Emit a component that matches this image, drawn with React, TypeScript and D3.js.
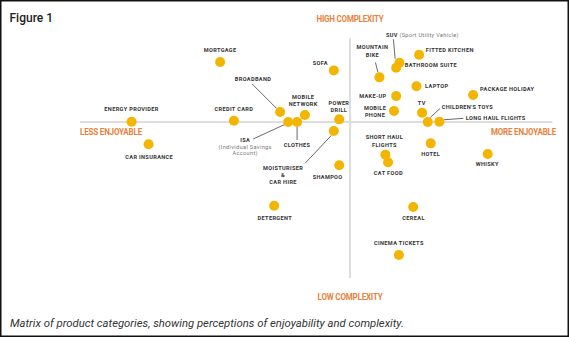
import React from "react";
import * as d3 from "d3";

// ---- data ----
const products = [
  "ENERGY PROVIDER", "CAR INSURANCE", "MORTGAGE", "CREDIT CARD", "BROADBAND",
  "ISA", "CLOTHES", "MOBILE NETWORK", "SOFA", "POWER DRILL",
  "MOISTURISER & CAR HIRE", "SHAMPOO", "DETERGENT", "MOUNTAIN BIKE",
  "BATHROOM SUITE", "SUV", "FITTED KITCHEN", "LAPTOP", "MAKE-UP", "MOBILE PHONE",
  "TV", "CHILDREN'S TOYS", "LONG HAUL FLIGHTS", "PACKAGE HOLIDAY",
  "SHORT HAUL FLIGHTS", "CAT FOOD", "HOTEL", "WHISKY", "CEREAL", "CINEMA TICKETS",
];
const enjoyability = [
  -80.9, -74.6, -48.1, -43, -25.9,
  -22.9, -19.6, -16.7, -6, -4,
  -6, -4, -28.1, 10.9,
  17.1, 18.3, 25.6, 24.6, 17.1, 16.3,
  26.7, 28.8, 33.1, 45.6,
  13.1, 14.1, 29.9, 51, 23.4, 18.1,
];
const complexity = [
  0.1, -9.3, 25, 0.5, 4.2,
  0, 0, 2.9, 21.5, 1.1,
  -3.75, -18, -34.9, 18.6,
  22.6, 24.7, 28, 14.9, 10.8, 4.6,
  3.9, 0, 0.1, 11.25,
  -13.6, -16.8, -8.9, -13.3, -35.4, -55.4,
];
const xDomain = [-100, 75];
const yDomain = [-65, 35];
const axisLabels = ["LESS ENJOYABLE", "MORE ENJOYABLE", "HIGH COMPLEXITY", "LOW COMPLEXITY"];
const titleText = "Figure 1";
const captionText = "Matrix of product categories, showing perceptions of enjoyability and complexity.";

// ---- label layout (offsets relative to the dot) ----
type Lay = { lines: string[]; sub?: string[]; anchor: "start" | "middle" | "end"; dx: number; dy: number; lh?: number; leader?: [number, number, number, number] };
const layout: Record<string, Lay> = {
  "ENERGY PROVIDER": { lines: ["ENERGY PROVIDER"], anchor: "middle", dx: 0, dy: -10.5 },
  "CAR INSURANCE": { lines: ["CAR INSURANCE"], anchor: "middle", dx: 0.6, dy: 14.7 },
  "MORTGAGE": { lines: ["MORTGAGE"], anchor: "middle", dx: 0, dy: -10 },
  "CREDIT CARD": { lines: ["CREDIT CARD"], anchor: "middle", dx: 0, dy: -9.5 },
  "BROADBAND": { lines: ["BROADBAND"], anchor: "middle", dx: -27, dy: -30.7, leader: [-28, -28, -3.5, -3.5] },
  "ISA": { lines: ["ISA"], sub: ["(Individual Savings", "Account)"], anchor: "middle", dx: -43, dy: 20, lh: 6.7, leader: [-35, 17, -3.5, 2.5] },
  "CLOTHES": { lines: ["CLOTHES"], anchor: "middle", dx: 0, dy: 25, leader: [0, 5, 0, 18] },
  "MOBILE NETWORK": { lines: ["MOBILE", "NETWORK"], anchor: "middle", dx: -1.7, dy: -16.3, lh: 7.3 },
  "SOFA": { lines: ["SOFA"], anchor: "middle", dx: -13.5, dy: -5 },
  "POWER DRILL": { lines: ["POWER", "DRILL"], anchor: "middle", dx: -0.3, dy: -14, lh: 6.8 },
  "MOISTURISER & CAR HIRE": { lines: ["MOISTURISER", "&", "CAR HIRE"], anchor: "middle", dx: -50.7, dy: 39.3, lh: 6.7, leader: [-28.7, 32.3, -2.5, 4.5] },
  "SHAMPOO": { lines: ["SHAMPOO"], anchor: "middle", dx: -11.6, dy: 14 },
  "DETERGENT": { lines: ["DETERGENT"], anchor: "middle", dx: 0.7, dy: 14.6 },
  "MOUNTAIN BIKE": { lines: ["MOUNTAIN", "BIKE"], anchor: "middle", dx: -7, dy: -28, lh: 7.2, leader: [-4, -15, -1.5, -5] },
  "SUV": { lines: ["SUV"], sub: ["(Sport Utility Vehicle)"], anchor: "start", dx: -13.3, dy: -25.4, leader: [-6, -23.5, -4.3, -4] },
  "BATHROOM SUITE": { lines: ["BATHROOM SUITE"], anchor: "start", dx: 8.7, dy: -0.7 },
  "FITTED KITCHEN": { lines: ["FITTED KITCHEN"], anchor: "start", dx: 6.7, dy: -3 },
  "LAPTOP": { lines: ["LAPTOP"], anchor: "start", dx: 8.7, dy: 2 },
  "MAKE-UP": { lines: ["MAKE-UP"], anchor: "end", dx: -9.6, dy: 2 },
  "MOBILE PHONE": { lines: ["MOBILE", "PHONE"], anchor: "middle", dx: -19, dy: -0.7, lh: 6.8 },
  "TV": { lines: ["TV"], anchor: "middle", dx: -0.3, dy: -7.4 },
  "CHILDREN'S TOYS": { lines: ["CHILDREN'S TOYS"], anchor: "start", dx: 14, dy: -13, leader: [12.3, -13.5, 2.5, -4.5] },
  "LONG HAUL FLIGHTS": { lines: ["LONG HAUL FLIGHTS"], anchor: "start", dx: 26.4, dy: -2, leader: [24, -3.4, 4.5, -2] },
  "PACKAGE HOLIDAY": { lines: ["PACKAGE HOLIDAY"], anchor: "start", dx: 7, dy: -3.7 },
  "SHORT HAUL FLIGHTS": { lines: ["SHORT HAUL", "FLIGHTS"], anchor: "middle", dx: -1, dy: -16, lh: 8 },
  "CAT FOOD": { lines: ["CAT FOOD"], anchor: "middle", dx: 0.3, dy: 12.4 },
  "HOTEL": { lines: ["HOTEL"], anchor: "middle", dx: 0, dy: 12.7 },
  "WHISKY": { lines: ["WHISKY"], anchor: "middle", dx: -0.4, dy: 12 },
  "CEREAL": { lines: ["CEREAL"], anchor: "middle", dx: 0.4, dy: 13.3 },
  "CINEMA TICKETS": { lines: ["CINEMA TICKETS"], anchor: "middle", dx: 0, dy: -9.7 },
};

const W = 569;
const H = 337;

export default function App() {
  const x = d3.scaleLinear().domain(xDomain).range([80, 552.5]);
  const y = d3.scaleLinear().domain(yDomain).range([278, 38]);
  const x0 = x(0);
  const y0 = y(0);
  const labelFont = "Roboto, 'DejaVu Sans', sans-serif";
  const axisFont = "Roboto, sans-serif";
  const orange = "#E8823A";
  const dotColor = "#F3B500";
  const axisStyle = { fontFamily: axisFont, fontWeight: 700, fontSize: 8.6, fill: orange, letterSpacing: -0.2 } as const;

  const pts = products.map((p, i) => ({ name: p, px: x(enjoyability[i]), py: y(complexity[i]) }));

  return (
    <svg width={W} height={H} style={{ position: "fixed", left: 0, top: 0, background: "#fff" }}>
      <rect x={0} y={0} width={W} height={H} fill="#fff" />
      <rect x={0.75} y={0.75} width={W - 1.5} height={H - 1.5} fill="none" stroke="#111" strokeWidth={1.5} />
      <text x={9.5} y={21.5} fontFamily="Roboto, sans-serif" fontWeight={500} fontSize={12} fill="#222">{titleText}</text>

      {/* axes */}
      <line x1={x(xDomain[0])} x2={x(xDomain[1])} y1={y0} y2={y0} stroke="#dddddd" strokeWidth={2} />
      <line x1={x0} x2={x0} y1={y(yDomain[1])} y2={y(yDomain[0])} stroke="#dddddd" strokeWidth={2} />

      <text x={x(xDomain[0])} y={y0 + 12.5} {...axisStyle} textLength={62} lengthAdjust="spacingAndGlyphs">{axisLabels[0]}</text>
      <text x={x(xDomain[1]) + 3.5} y={y0 + 12.5} textAnchor="end" {...axisStyle} textLength={65} lengthAdjust="spacingAndGlyphs">{axisLabels[1]}</text>
      <text x={x0} y={y(yDomain[1]) - 16} textAnchor="middle" {...axisStyle} textLength={67} lengthAdjust="spacingAndGlyphs">{axisLabels[2]}</text>
      <text x={x0} y={y(yDomain[0]) + 22} textAnchor="middle" {...axisStyle} textLength={65} lengthAdjust="spacingAndGlyphs">{axisLabels[3]}</text>

      {/* leaders */}
      {pts.map((p) => {
        const l = layout[p.name];
        if (!l || !l.leader) return null;
        const [a, b, c, d] = l.leader;
        return <line key={"l" + p.name} x1={p.px + a} y1={p.py + b} x2={p.px + c} y2={p.py + d} stroke="#444" strokeWidth={0.8} />;
      })}

      {/* dots */}
      {pts.map((p) => (
        <circle key={"c" + p.name} cx={p.px} cy={p.py} r={5} fill={dotColor} />
      ))}

      {/* labels */}
      {pts.map((p) => {
        const l = layout[p.name];
        const lh = l.lh ?? 7;
        if (p.name === "SUV") {
          return (
            <text key={"t" + p.name} x={p.px + l.dx} y={p.py + l.dy} textAnchor="start" fontFamily={labelFont} fontSize={5.6} letterSpacing={0.3}>
              <tspan fontWeight={700} fill="#333">SUV </tspan>
              <tspan fontWeight={400} fill="#777">(Sport Utility Vehicle)</tspan>
            </text>
          );
        }
        return (
          <g key={"t" + p.name}>
            {l.lines.map((ln, k) => (
              <text key={k} x={p.px + l.dx} y={p.py + l.dy + k * lh} textAnchor={l.anchor} fontFamily={labelFont} fontWeight={700} fontSize={5.6} letterSpacing={0.35} fill="#333">{ln}</text>
            ))}
            {(l.sub || []).map((ln, k) => (
              <text key={"s" + k} x={p.px + l.dx} y={p.py + l.dy + (k + l.lines.length) * lh} textAnchor={l.anchor} fontFamily={labelFont} fontWeight={400} fontSize={5.6} letterSpacing={0.35} fill="#777">{ln}</text>
            ))}
          </g>
        );
      })}

      <text x={10} y={327} fontFamily="Roboto, sans-serif" fontStyle="italic" fontSize={11.3} fill="#333">{captionText}</text>
    </svg>
  );
}
